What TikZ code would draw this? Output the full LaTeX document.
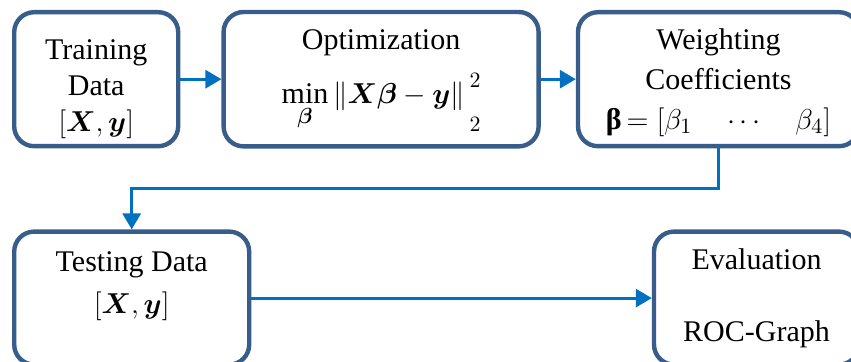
\documentclass[tikz,border=0pt]{standalone}
\usepackage{amsmath}
\usepackage{fontspec}
\setmainfont{Liberation Serif}
\usetikzlibrary{arrows.meta,positioning,calc}
\definecolor{boxblue}{RGB}{56,93,138}
\definecolor{flowblue}{RGB}{0,112,192}

\begin{document}
\begin{tikzpicture}[node distance=20pt,
  box/.style={rectangle,rounded corners=10pt,draw=boxblue,line width=2.2pt,fill=white,
    align=center,minimum height=67pt,inner sep=2pt,font=\fontsize{15}{18}\selectfont},
  flow/.style={draw=flowblue,line width=1.5pt,-{Triangle[length=8pt,width=9pt]}}]
\useasboundingbox (-6pt,5pt) rectangle (419.5pt,-176pt);
\node (train) [box,minimum width=82pt,anchor=north west] at (0,0)
  {\rule{0pt}{20pt}Training\\Data\\$[\boldsymbol{X},\boldsymbol{y}]$};
\node (optim) [box,minimum width=157.5pt,right=20.5pt of train]
  {\rule{0pt}{17pt}Optimization\\[2pt]$\displaystyle\min_{\boldsymbol{\beta}}\|\boldsymbol{X}\boldsymbol{\beta}-\boldsymbol{y}\|\,
   \raisebox{-3pt}{$\begin{matrix}\scriptstyle 2\\[4pt]\scriptstyle 2\end{matrix}$}$};
\node (weight) [box,minimum width=140.5pt,right=17.5pt of optim]
  {\rule{0pt}{14pt}Weighting\\[2pt]Coefficients\\[2pt]\textbf{β}\,$=[\beta_1\quad\cdots\quad\beta_4]$};
\node (test) [box,minimum width=117.5pt,minimum height=66.5pt,
  below=40.5pt of train.south west,anchor=north west]
  {Testing Data\\[3pt]$[\boldsymbol{X},\boldsymbol{y}]$\rule[-16pt]{0pt}{16pt}};
\node (eval) [box,minimum width=102.5pt,minimum height=66.5pt,
  below=40.5pt of weight.south east,anchor=north east]
  {Evaluation\\[18pt]ROC-Graph};
\draw[flow] (train) -- (optim);
\draw[flow] (optim) -- (weight);
\draw[flow] (weight.south) |- ($(weight.south)!0.5!(test.north)$) -| (test.north);
\draw[flow] (test) -- (eval);
\end{tikzpicture}
\end{document}
